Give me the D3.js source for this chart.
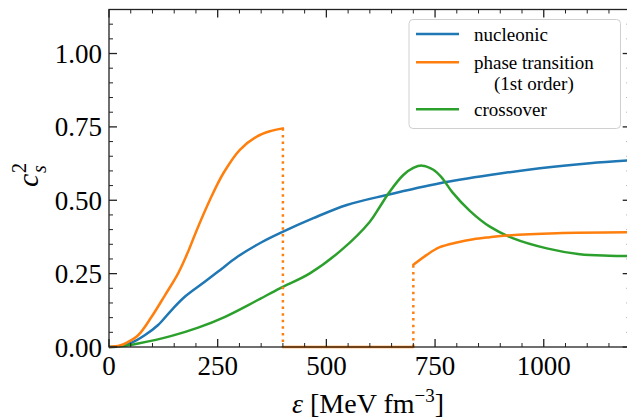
<!DOCTYPE html>
<html>
<head>
<meta charset="utf-8">
<script src="https://cdn.jsdelivr.net/npm/d3@7"></script>
<style>
  html, body { margin: 0; padding: 0; background: #fff; }
  svg text { font-family: "Liberation Serif", "DejaVu Serif", serif; fill: #000; }
</style>
</head>
<body>
<svg id="chart" width="627" height="419"></svg>
<script>
// Squared sound speed c_s^2 versus energy density (MeV fm^-3)

const nucleonicE = [0, 20, 52, 83, 113, 144, 175, 221, 251, 297, 351, 393, 470, 547, 639, 761, 876, 991, 1106, 1200];
const nucleonicC = [0, 0.002, 0.015, 0.041, 0.075, 0.126, 0.172, 0.223, 0.257, 0.309, 0.357, 0.388, 0.439, 0.484, 0.518, 0.558, 0.586, 0.609, 0.626, 0.636];

// first-order transition: hadronic branch, mixed phase (c_s^2 = 0), quark branch
const hadronicE = [0, 25, 40, 67, 98, 129, 159, 182, 202, 232, 263, 301, 340, 370, 400];
const hadronicC = [0, 0.005, 0.014, 0.040, 0.103, 0.177, 0.251, 0.325, 0.399, 0.501, 0.592, 0.672, 0.717, 0.735, 0.745];
const mixedE = [400, 700];
const mixedC = [0, 0];
const quarkE = [700, 731, 761, 800, 838, 876, 915, 1030, 1200];
const quarkC = [0.280, 0.314, 0.340, 0.356, 0.367, 0.374, 0.380, 0.388, 0.391];

const crossoverE = [0, 30, 67, 144, 205, 267, 336, 393, 462, 535, 600, 623, 646, 677, 700, 720, 746, 765, 790, 830, 876, 930, 1007, 1083, 1150, 1200];
const crossoverC = [0, 0.003, 0.012, 0.038, 0.066, 0.103, 0.155, 0.200, 0.251, 0.331, 0.427, 0.478, 0.530, 0.586, 0.610, 0.618, 0.604, 0.578, 0.527, 0.464, 0.410, 0.370, 0.336, 0.316, 0.311, 0.310];

const xTicks = [0, 250, 500, 750, 1000];
const yTicks = [0, 0.25, 0.5, 0.75, 1.0];
const legendLabels = [["nucleonic"], ["phase transition", "(1st order)"], ["crossover"]];

const colors = { nucleonic: "#1f77b4", transition: "#ff7f0e", crossover: "#2ca02c" };

const svg = d3.select("#chart");
const plot = { left: 109, right: 630.7, top: 9.5, bottom: 347 };

const x = d3.scaleLinear().domain([0, 1200]).range([plot.left, plot.right]);
const y = d3.scaleLinear().domain([0, 1.15]).range([plot.bottom, plot.top]);

const zip = (es, cs) => es.map((e, i) => [e, cs[i]]);
const line = d3.line().x(d => x(d[0])).y(d => y(d[1])).curve(d3.curveCatmullRom.alpha(0.5));

svg.append("clipPath").attr("id", "clip")
  .append("rect").attr("x", plot.left).attr("y", plot.top)
  .attr("width", plot.right - plot.left).attr("height", plot.bottom - plot.top + 2);

const g = svg.append("g").attr("clip-path", "url(#clip)");

function drawLine(data, color, dotted) {
  const p = g.append("path").datum(data)
    .attr("d", line)
    .attr("fill", "none")
    .attr("stroke", color)
    .attr("stroke-width", 2.5)
    .attr("stroke-linejoin", "round");
  if (dotted) p.attr("stroke-dasharray", "2.5,4.1");
  else p.attr("stroke-linecap", "round");
  return p;
}

drawLine(zip(nucleonicE, nucleonicC), colors.nucleonic);
drawLine(zip(crossoverE, crossoverC), colors.crossover);
drawLine(zip(hadronicE, hadronicC), colors.transition);
drawLine(zip(mixedE, mixedC), colors.transition);
drawLine(zip(quarkE, quarkC), colors.transition);
// jumps at the phase boundaries
drawLine([[hadronicE[hadronicE.length - 1], hadronicC[hadronicC.length - 1]], [mixedE[0], mixedC[0]]], colors.transition, true);
drawLine([[mixedE[1], mixedC[1]], [quarkE[0], quarkC[0]]], colors.transition, true);

// axes: ticks inward on all four sides
const axisColor = "#222";
const frame = svg.append("g");
frame.append("rect")
  .attr("x", plot.left).attr("y", plot.top)
  .attr("width", plot.right - plot.left).attr("height", plot.bottom - plot.top)
  .attr("fill", "none").attr("stroke", axisColor).attr("stroke-width", 1.3);

const xMinor = d3.range(0, 1201, 50).filter(v => v % 250 !== 0);
const yMinor = d3.range(0, 23).map(i => +(i * 0.05).toFixed(2)).filter(v => Math.round(v * 100) % 25 !== 0);
const majorLen = 8, minorLen = 4;

function tickLines(values, scale, horizontal, len, width) {
  values.forEach(v => {
    if (horizontal) {
      const px = scale(v);
      frame.append("line").attr("x1", px).attr("x2", px).attr("y1", plot.bottom).attr("y2", plot.bottom - len)
        .attr("stroke", axisColor).attr("stroke-width", width);
      frame.append("line").attr("x1", px).attr("x2", px).attr("y1", plot.top).attr("y2", plot.top + len)
        .attr("stroke", axisColor).attr("stroke-width", width);
    } else {
      const py = scale(v);
      frame.append("line").attr("x1", plot.left).attr("x2", plot.left + len).attr("y1", py).attr("y2", py)
        .attr("stroke", axisColor).attr("stroke-width", width);
      frame.append("line").attr("x1", plot.right).attr("x2", plot.right - len).attr("y1", py).attr("y2", py)
        .attr("stroke", axisColor).attr("stroke-width", width);
    }
  });
}
tickLines(xTicks, x, true, majorLen, 1.3);
tickLines(xMinor, x, true, minorLen, 1);
tickLines(yTicks, y, false, majorLen, 1.3);
tickLines(yMinor, y, false, minorLen, 1);

// tick labels
const tickFont = 27;
svg.append("g").selectAll("text").data(xTicks).join("text")
  .attr("x", d => x(d)).attr("y", 375)
  .attr("text-anchor", "middle").attr("font-size", tickFont)
  .text(d => d3.format("d")(d));
svg.append("g").selectAll("text").data(yTicks).join("text")
  .attr("x", 102).attr("y", d => y(d) + 9.5)
  .attr("text-anchor", "end").attr("font-size", tickFont)
  .text(d => d3.format(".2f")(d));

// x axis label
const xl = svg.append("text").attr("x", 368).attr("y", 413).attr("text-anchor", "middle").attr("font-size", 28);
xl.append("tspan").attr("font-style", "italic").text("ε");
xl.append("tspan").text(" [MeV fm");
xl.append("tspan").attr("font-size", 19).attr("dy", -11).text("−3");
xl.append("tspan").attr("dy", 11).text("]");

// y axis label: c_s^2
const yl = svg.append("g").attr("transform", "translate(30,177) rotate(-90)");
yl.append("text").attr("x", -10).attr("y", 8).attr("font-size", 30).attr("font-style", "italic").text("c");
yl.append("text").attr("x", 4).attr("y", -4).attr("font-size", 20).text("2");
yl.append("text").attr("x", 4).attr("y", 16).attr("font-size", 20).attr("font-style", "italic").text("s");

// legend
const legendFont = 19;
const legend = svg.append("g");
legend.append("rect")
  .attr("x", 409).attr("y", 19.5).attr("width", 211.5).attr("height", 109).attr("rx", 4)
  .attr("fill", "#fff").attr("fill-opacity", 0.8).attr("stroke", "#d0d0d0").attr("stroke-width", 1);
const legendRows = [
  { color: colors.nucleonic, lineY: 34, textY: [41] },
  { color: colors.transition, lineY: 62.3, textY: [68.5, 90] },
  { color: colors.crossover, lineY: 109.3, textY: [116] }
];
legendRows.forEach((r, i) => {
  legend.append("line").attr("x1", 416).attr("x2", 459).attr("y1", r.lineY).attr("y2", r.lineY)
    .attr("stroke", r.color).attr("stroke-width", 2.5);
  const lines = legendLabels[i];
  if (lines.length === 1) {
    legend.append("text").attr("x", 474).attr("y", r.textY[0]).attr("font-size", legendFont).text(lines[0]);
  } else {
    const t0 = legend.append("text").attr("x", 474).attr("y", r.textY[0]).attr("font-size", legendFont).text(lines[0]);
    const w = t0.node().getComputedTextLength();
    legend.append("text").attr("x", 474 + w / 2).attr("y", r.textY[1]).attr("text-anchor", "middle")
      .attr("font-size", legendFont).text(lines[1]);
  }
});
</script>
</body>
</html>
